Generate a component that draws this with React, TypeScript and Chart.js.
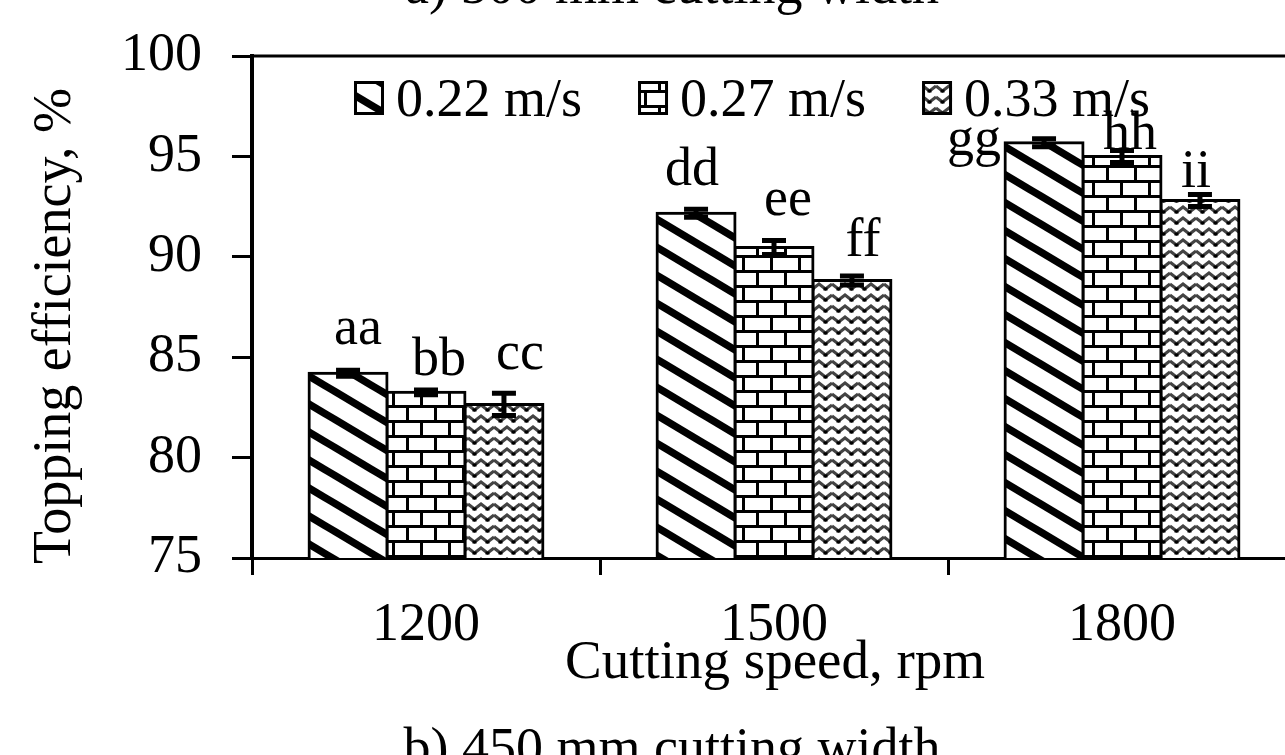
import { useEffect, useRef } from "react";
import { Chart, registerables } from "chart.js";

Chart.register(...registerables);

// ---- data ----
const categories = ["1200", "1500", "1800"];
const seriesNames = ["0.22 m/s", "0.27 m/s", "0.33 m/s"];
const efficiency022 = [84.2, 92.17, 95.68];
const efficiency027 = [83.25, 90.46, 95.0];
const efficiency033 = [82.65, 88.82, 92.8];
const error022 = [0.15, 0.2, 0.2];
const error027 = [0.12, 0.35, 0.3];
const error033 = [0.55, 0.22, 0.3];
const letters022 = ["aa", "dd", "gg"];
const letters027 = ["bb", "ee", "hh"];
const letters033 = ["cc", "ff", "ii"];
const yMin = 75;
const yMax = 100;
const yStep = 5;
const xTitle = "Cutting speed, rpm";
const yTitle = "Topping efficiency, %";
const topCaption = "a) 500 mm cutting width";
const bottomCaption = "b) 450 mm cutting width";

// ---- layout (pixels, not data) ----
const CANVAS_W = 1400;
const CANVAS_H = 900;
const OFFSET_Y = 60;
const letterDx = [[10, -4, -70], [13, 14, 8], [16, 11, -4]];
const letterDy = [[-26, -24, 16], [-15, -26, -1], [-24, -20, -8]];
const FONT = '"Liberation Serif", "Times New Roman", serif';
const FS = 54;

function stripePattern(ctx: CanvasRenderingContext2D) {
  const c = document.createElement("canvas");
  c.width = 47;
  c.height = 28;
  const g = c.getContext("2d")!;
  g.fillStyle = "#fff";
  g.fillRect(0, 0, 47, 28);
  g.strokeStyle = "#000";
  g.lineWidth = 7.5;
  for (let k = -1; k <= 1; k++) {
    g.beginPath();
    g.moveTo(-47, -28 + k * 28);
    g.lineTo(94, 56 + k * 28);
    g.stroke();
  }
  return ctx.createPattern(c, "repeat")!;
}

function brickPattern(ctx: CanvasRenderingContext2D) {
  const c = document.createElement("canvas");
  c.width = 28;
  c.height = 30;
  const g = c.getContext("2d")!;
  g.fillStyle = "#fff";
  g.fillRect(0, 0, 28, 30);
  g.fillStyle = "#000";
  g.fillRect(0, 0, 28, 3);
  g.fillRect(0, 15, 28, 3);
  g.fillRect(0, 0, 3, 15);
  g.fillRect(14, 15, 3, 15);
  return ctx.createPattern(c, "repeat")!;
}

function wavePattern(ctx: CanvasRenderingContext2D) {
  const c = document.createElement("canvas");
  c.width = 26;
  c.height = 11;
  const g = c.getContext("2d")!;
  g.fillStyle = "#fff";
  g.fillRect(0, 0, 26, 11);
  g.strokeStyle = "#444";
  g.lineWidth = 3;
  g.beginPath();
  g.moveTo(0, 3);
  g.lineTo(6.5, 8);
  g.lineTo(13, 3);
  g.lineTo(19.5, 8);
  g.lineTo(26, 3);
  g.stroke();
  g.fillStyle = "#000";
  g.fillRect(4.5, 6.5, 4, 3);
  g.fillRect(17.5, 6.5, 4, 3);
  return ctx.createPattern(c, "repeat")!;
}

export default function App() {
  const ref = useRef<HTMLCanvasElement | null>(null);

  useEffect(() => {
    const canvas = ref.current!;
    const ctx = canvas.getContext("2d")!;
    const values = [efficiency022, efficiency027, efficiency033];
    const errors = [error022, error027, error033];
    const letters = [letters022, letters027, letters033];
    const patterns = [stripePattern(ctx), brickPattern(ctx), wavePattern(ctx)];

    const overlay = {
      id: "overlay",
      afterDatasetsDraw(chart: any) {
        const c = chart.ctx as CanvasRenderingContext2D;
        const a = chart.chartArea;
        const ys = chart.scales.y;
        c.save();
        // plot border (top + right)
        c.strokeStyle = "#000";
        c.lineWidth = 3;
        c.beginPath();
        c.moveTo(a.left, a.top);
        c.lineTo(a.right, a.top);
        c.lineTo(a.right, a.bottom);
        c.stroke();

        // error bars
        c.strokeStyle = "#000";
        c.lineWidth = 5;
        values.forEach((vals, i) => {
          const meta = chart.getDatasetMeta(i);
          vals.forEach((v, j) => {
            const x = meta.data[j].x;
            const yt = ys.getPixelForValue(v + errors[i][j]);
            const yb = ys.getPixelForValue(v - errors[i][j]);
            c.beginPath();
            c.moveTo(x, yt);
            c.lineTo(x, yb);
            c.moveTo(x - 12, yt);
            c.lineTo(x + 12, yt);
            c.moveTo(x - 12, yb);
            c.lineTo(x + 12, yb);
            c.stroke();
          });
        });

        // significance letters
        c.fillStyle = "#000";
        c.font = `${FS}px ${FONT}`;
        c.textAlign = "center";
        c.textBaseline = "alphabetic";
        values.forEach((vals, i) => {
          const meta = chart.getDatasetMeta(i);
          vals.forEach((v, j) => {
            const x = meta.data[j].x + letterDx[i][j];
            const yt = ys.getPixelForValue(v + errors[i][j]) + letterDy[i][j];
            c.fillText(letters[i][j], x, yt);
          });
        });

        // legend
        c.textAlign = "left";
        let lx = a.left + 102;
        const boxTop = a.top + 25;
        seriesNames.forEach((name, i) => {
          c.fillStyle = patterns[i];
          c.fillRect(lx, boxTop, 30, 34);
          c.lineWidth = 3;
          c.strokeStyle = "#000";
          c.strokeRect(lx + 1.5, boxTop + 1.5, 27, 31);
          c.fillStyle = "#000";
          const tx = lx + 42;
          c.fillText(name, tx, a.top + 60);
          lx = tx + c.measureText(name).width + 56;
        });

        // axis titles
        c.textAlign = "center";
        c.font = `55px ${FONT}`;
        c.fillText(xTitle, (a.left + a.right) / 2 + 1, a.bottom + 120);
        c.font = `${FS}px ${FONT}`;
        c.save();
        c.translate(a.left - 182, a.top + 270);
        c.rotate(-Math.PI / 2);
        c.fillText(yTitle, 0, 0);
        c.restore();

        // captions (cropped)
        c.fillText(topCaption, a.left + 420, a.top - 53);
        c.fillText(bottomCaption, a.left + 420, a.bottom + 207);
        c.restore();
      },
    };

    const chart = new Chart(canvas, {
      type: "bar",
      data: {
        labels: categories,
        datasets: values.map((vals, i) => ({
          label: seriesNames[i],
          data: vals,
          backgroundColor: patterns[i],
          borderColor: "#000",
          borderWidth: 3,
          borderSkipped: false,
          inflateAmount: 1.5,
          categoryPercentage: 0.672,
          barPercentage: 1,
        })),
      },
      options: {
        responsive: false,
        animation: false,
        devicePixelRatio: 1,
        layout: { padding: { left: 0, top: 116, right: CANVAS_W - 1296, bottom: 0 } },
        plugins: {
          legend: { display: false },
          tooltip: { enabled: false },
          title: { display: false },
        },
        scales: {
          x: {
            grid: {
              display: true,
              drawOnChartArea: false,
              drawTicks: true,
              tickLength: 17,
              color: "#000",
              lineWidth: 3,
              offset: true,
            },
            border: { display: true, color: "#000", width: 3 },
            ticks: { color: "#000", font: { family: FONT, size: FS }, padding: 18, maxRotation: 0 },
            afterFit: (s: any) => {
              s.height = CANVAS_H - 618;
            },
          },
          y: {
            min: yMin,
            max: yMax,
            grid: {
              display: true,
              drawOnChartArea: false,
              drawTicks: true,
              tickLength: 20,
              color: "#000",
              lineWidth: 3,
            },
            border: { display: true, color: "#000", width: 4 },
            ticks: { stepSize: yStep, color: "#000", font: { family: FONT, size: FS }, padding: 30 },
            afterFit: (s: any) => {
              s.width = 252;
            },
          },
        },
      },
      plugins: [overlay],
    } as any);

    return () => chart.destroy();
  }, []);

  return (
    <div
      style={{
        position: "fixed",
        left: 0,
        top: 0,
        width: 1285,
        height: 755,
        overflow: "hidden",
        background: "#fff",
      }}
    >
      <canvas
        ref={ref}
        width={CANVAS_W}
        height={CANVAS_H}
        style={{ position: "absolute", left: 0, top: -OFFSET_Y, width: CANVAS_W, height: CANVAS_H }}
      />
    </div>
  );
}
